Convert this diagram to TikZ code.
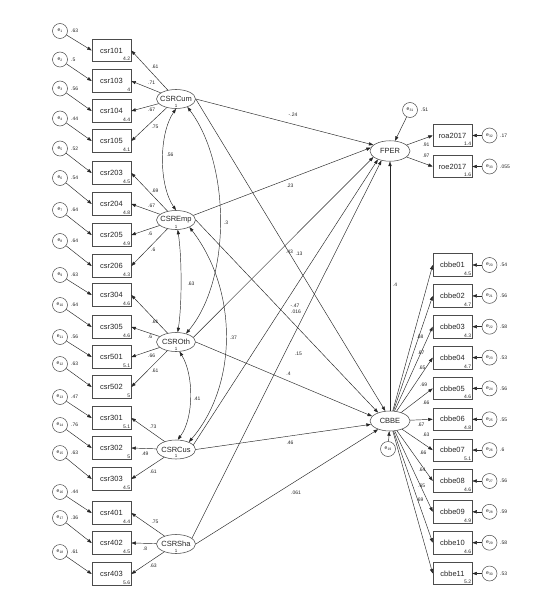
\documentclass[tikz,border=0pt]{standalone}
\usepackage{fontspec}
\setmainfont{Liberation Sans}
\usetikzlibrary{arrows.meta,shapes.geometric}
\newcommand\errtxt[1]{e\raisebox{-0.9pt}{\fontsize{3.4}{3.4}\selectfont #1}}
\begin{document}
\begin{tikzpicture}[x=1pt,y=-1pt,
  >={Triangle[length=4.5pt,width=3.2pt]},
  ln/.style={draw=black!85,line width=0.45pt},
  arr/.style={ln,->},
  darr/.style={ln,<->},
  obs/.style={draw=black!70,line width=0.55pt,minimum width=39pt,minimum height=22.5pt,inner sep=0pt,font=\fontsize{7.5}{8}\selectfont,text=black!85},
  lat/.style={ellipse,draw=black!70,line width=0.55pt,minimum width=39pt,minimum height=19pt,inner sep=0pt,font=\fontsize{7.5}{8}\selectfont,text=black!85},
  err/.style={circle,draw=black!70,line width=0.5pt,minimum size=15pt,inner sep=0pt,font=\fontsize{5}{5}\selectfont,text=black!85},
  mean/.style={font=\fontsize{5}{5}\selectfont,inner sep=0.9pt,anchor=south east,text=black!85},
  num/.style={font=\fontsize{5}{5}\selectfont,inner sep=0pt,text=black!85},
  one/.style={font=\fontsize{4.5}{4.5}\selectfont,inner sep=0pt,text=black!85}
]
\path[use as bounding box,fill=white] (0,0) rectangle (539,599);

% latent variables
\node[lat] (Cum) at (176,99) {\makebox[0pt]{CSRCum}};
\node[lat] (Emp) at (176,220) {\makebox[0pt]{CSREmp}};
\node[lat] (Oth) at (176,342) {\makebox[0pt]{CSROth}};
\node[lat] (Cus) at (176,449.5) {\makebox[0pt]{CSRCus}};
\node[lat] (Sha) at (176,544) {\makebox[0pt]{CSRSha}};
\foreach \l in {Cum,Emp,Oth,Cus,Sha}{\node[one] (\l one) at ([yshift=-6.5pt]\l.center) {1};}
\node[lat,minimum width=40pt,minimum height=20.5pt] (FPER) at (390,151) {\makebox[0pt]{FPER}};
\node[lat,minimum width=40pt,minimum height=20pt] (CBBE) at (390,421) {\makebox[0pt]{CBBE}};

% left indicators with errors
\foreach \n/\y/\m/\ey/\k/\ev in {
 101/50.5/4.2/31/1/.63, 103/81/4/59.5/2/.5, 104/111/4.4/88.5/3/.56, 105/141/4.1/118.5/4/.44,
 203/173/4.5/148.5/5/.52, 204/204/4.8/178/6/.54, 205/235/4.9/210/7/.64, 206/266/4.3/241/8/.64,
 304/295/4.6/275/9/.63, 305/327/4.6/305/10/.64, 501/357/5.1/337/11/.56, 502/387/5/364/12/.63,
 301/418/5.1/397/13/.47, 302/448/5/425/14/.76, 303/479/4.5/453/15/.63,
 401/513/4.4/492/16/.44, 402/543/4.5/518/17/.36, 403/574/5.6/552/18/.61}{
  \node[obs] (b\n) at (111.5,\y) {csr\n};
  \node[mean] (mb\n) at (b\n.south east) {\m};
  \node[err] (e\k) at (60,\ey) {\errtxt{\k}};
  \node[num,anchor=west] (v\k) at (71,\ey) {\ev};
  \draw[arr] (e\k) -- (b\n.west);
}

% loadings on the left
\foreach \s/\t/\lx/\ly/\lv [count=\i] in {
 Cum/101/155/66.7/.61, Cum/103/151.7/82.7/.71, Cum/104/151.7/110/.67, Cum/105/155/126.7/.75,
 Emp/203/155/190.7/.69, Emp/204/151.7/205.7/.67, Emp/205/150/234/.6, Emp/206/153.3/250/.6,
 Oth/304/155/321.7/.61, Oth/305/150/336.7/.6, Oth/501/151.7/356/.66, Oth/502/155/371/.61,
 Cus/301/153/426.7/.73, Cus/302/145/454/.49, Cus/303/153.3/471.7/.61,
 Sha/401/155/521.7/.75, Sha/402/145/548.3/.8, Sha/403/153.3/565.7/.63}{
  \draw[arr] (\s) -- (b\t.east);
  \node[num] (ll\i) at (\lx,\ly) {\lv};
}

% covariances
\draw[darr] (Cum.south) .. controls (158.7,134) and (158.7,185) .. (Emp.north);
\node[num] (c1) at (170,155) {.56};
\draw[darr] (Cum.-35) .. controls (231,165) and (231,280) .. (Oth.40);
\node[num] (c2) at (226,223) {.3};
\draw[darr] (Emp.-80) .. controls (182,258) and (182,305) .. (Oth.80);
\node[num] (c3) at (191,284) {.63};
\draw[darr] (Emp.-28) .. controls (238,290) and (238,385) .. (Cus.30);
\node[num] (c4) at (233.5,338) {.37};
\draw[darr] (Oth.-70) .. controls (194,375) and (194,418) .. (Cus.80);
\node[num] (c5) at (197,399) {.41};

% structural paths
\draw[arr] (Cum.east) -- (FPER.160);
\draw[arr] (Cum.east) -- (CBBE.115);
\draw[arr] (Emp.15) -- (FPER.170);
\draw[arr] (Emp.east) -- (CBBE.145);
\draw[arr] (Oth.15) -- (FPER.200);
\draw[arr] (Oth.east) -- (CBBE.165);
\draw[arr] (Cus.15) -- (FPER.215);
\draw[arr] (Cus.east) -- (CBBE.190);
\draw[arr] (Sha.20) -- (FPER.228);
\draw[arr] (Sha.east) -- (CBBE.215);
\draw[arr] (CBBE.north) -- (FPER.south);
\node[num] (p1) at (293,115) {-.24};
\node[num] (p2) at (299,253.3) {.13};
\node[num] (p3) at (289.5,251.7) {.43};
\node[num] (p4) at (290,185.7) {.23};
\node[num] (p5) at (295,306) {-.47};
\node[num] (p6) at (296,311.7) {.016};
\node[num] (p7) at (298.5,354) {.15};
\node[num] (p8) at (288.5,374) {.4};
\node[num] (p9) at (290,442.7) {.46};
\node[num] (p10) at (296,492.7) {.061};
\node[num] (p11) at (395,285) {.4};

% FPER indicators
\node[obs] (roa) at (452.5,135.5) {roa2017};
\node[mean] (mroa) at (roa.south east) {1.4};
\node[obs] (roe) at (452.5,166.5) {roe2017};
\node[mean] (mroe) at (roe.south east) {1.6};
\draw[arr] (FPER) -- (roa.west);
\draw[arr] (FPER) -- (roe.west);
\node[num] (lroa) at (426,145) {.91};
\node[num] (lroe) at (426,156) {.97};
\node[err] (e31) at (410,110) {\errtxt{31}};
\node[num,anchor=west] (v31) at (421,110) {.51};
\draw[arr] (e31) -- (FPER);
\node[err] (e32) at (489.5,135.5) {\errtxt{32}};
\node[num,anchor=west] (v32) at (500,135.5) {.17};
\draw[arr] (e32) -- (roa.east);
\node[err] (e33) at (489.5,166.5) {\errtxt{33}};
\node[num,anchor=west] (v33) at (500,166.5) {.055};
\draw[arr] (e33) -- (roe.east);

% CBBE error
\node[err] (e19) at (388,449) {\errtxt{19}};
\draw[arr] (e19) -- (CBBE);

% CBBE indicators
\foreach \n/\y/\m/\k/\ev/\lx/\ly/\lv in {
 01/265/4.5/20/.54/420/336.7/.68, 02/295.9/4.7/21/.56/421/352.3/.67, 03/326.7/4.3/22/.58/422/367.3/.65,
 04/357.6/4.7/23/.53/423.7/384.3/.69, 05/388.4/4.6/24/.56/426/402.7/.66, 06/419.3/4.8/25/.55/421/425/.67,
 07/450.1/5.1/26/.6/426/435/.63, 08/481/4.6/27/.56/423/452.7/.66, 09/511.8/4.9/28/.59/422/470/.64,
 10/542.7/4.6/29/.58/421.7/486/.65, 11/573.5/5.2/30/.53/420/500/.69}{
  \node[obs] (c\n) at (452.5,\y) {cbbe\n};
  \node[mean] (mc\n) at (c\n.south east) {\m};
  \node[err] (e\k) at (489.5,\y) {\errtxt{\k}};
  \node[num,anchor=west] (v\k) at (500,\y) {\ev};
  \draw[arr] (e\k) -- (c\n.east);
  \draw[arr] (CBBE) -- (c\n.west);
  \node[num] (lc\n) at (\lx,\ly) {\lv};
}
\end{tikzpicture}
\end{document}
